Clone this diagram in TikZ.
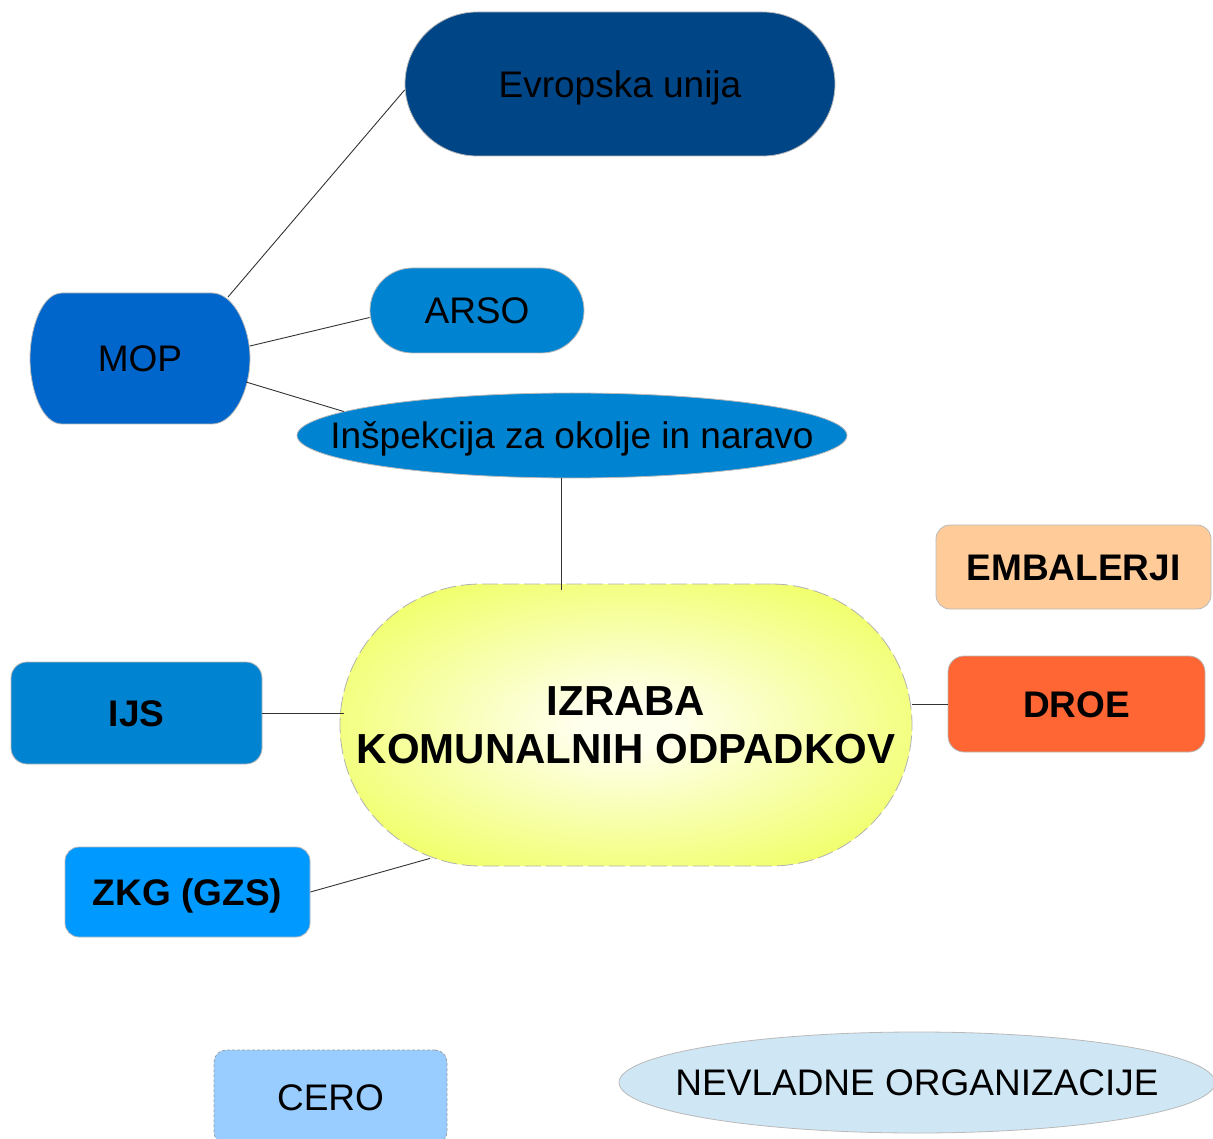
\documentclass[tikz,border=0pt]{standalone}
\usepackage{fontspec}
\setmainfont{Liberation Sans}
\usetikzlibrary{shapes.geometric}
\definecolor{eublue}{HTML}{004586}
\definecolor{mopblue}{HTML}{0066CC}
\definecolor{midblue}{HTML}{0084D1}
\definecolor{zkgblue}{HTML}{0099FF}
\definecolor{ceroblue}{HTML}{99CCFF}
\definecolor{nevlblue}{HTML}{CFE7F5}
\definecolor{embfill}{HTML}{FFCC99}
\definecolor{droefill}{HTML}{FF6633}
\definecolor{glowin}{HTML}{FFFFEE}
\definecolor{glowout}{HTML}{E4FF00}
\pgfdeclareradialshading{glow}{\pgfpoint{0bp}{0bp}}{color(0bp)=(glowin); color(4bp)=(glowin); color(50bp)=(glowout)}
\tikzset{
  lbl/.style={font=\fontsize{37}{44}\selectfont, text height=26.5pt, text depth=0pt, inner sep=0pt},
  lblb/.style={lbl, font=\fontsize{37}{44}\selectfont\bfseries},
  edgegray/.style={draw=gray!55, line width=0.8pt},
  conn/.style={draw=black!80, line width=0.9pt},
  rbox/.style={rectangle, edgegray, inner sep=0pt},
}
\begin{document}
\begin{tikzpicture}[x=1pt,y=-1pt]
\useasboundingbox (0,0) rectangle (1213,1139);

% central
\node[rectangle, rounded corners=141pt, shading=glow, draw=gray!60, line width=0.8pt,
      dash pattern=on 16pt off 5pt, minimum width=572pt, minimum height=282pt,
      inner sep=0pt, align=center, font=\fontsize{42}{48}\selectfont\bfseries]
  (central) at (626,725) {IZRABA\\KOMUNALNIH ODPADKOV};

% top nodes
\node[lbl, rbox, rounded corners=72pt, fill=eublue, minimum width=430pt, minimum height=144pt]
  (eu) at (620,84) {Evropska unija};
\node[lbl, rbox, rounded corners=42.5pt, fill=midblue, minimum width=214pt, minimum height=85pt]
  (arso) at (477,310.5) {ARSO};
\node[lbl, ellipse, edgegray, fill=midblue, minimum width=550pt, minimum height=85pt]
  (insp) at (572,435.5) {\makebox[0pt]{Inšpekcija za okolje in naravo}};

% MOP barrel shape
\path[fill=mopblue, edgegray] (62,293) -- (212,293)
  .. controls (234,293) and (250,328) .. (250,358)
  .. controls (250,390) and (234,424) .. (212,424)
  -- (62,424)
  .. controls (42,424) and (30,390) .. (30,358)
  .. controls (30,328) and (42,293) .. (62,293) -- cycle;
\node[lbl] (mop) at (140,358) {MOP};
\coordinate (mopNE) at (228,297);
\coordinate (mopE1) at (250,346);
\coordinate (mopE2) at (246,382);

% right side
\node[lblb, rbox, rounded corners=14pt, fill=embfill, minimum width=275pt, minimum height=84pt]
  (emb) at (1073.5,567) {EMBALERJI};
\node[lblb, rbox, rounded corners=16pt, fill=droefill, minimum width=257pt, minimum height=96pt]
  (droe) at (1076.5,704) {DROE};

% left side
\node[lblb, rbox, rounded corners=16pt, fill=midblue, minimum width=251pt, minimum height=102pt]
  (ijs) at (136.5,713) {IJS};
\node[lblb, rbox, rounded corners=14pt, fill=zkgblue, minimum width=245pt, minimum height=90pt]
  (zkg) at (187.5,892) {ZKG (GZS)};

% bottom
\node[lbl, rectangle, inner sep=0pt, draw=gray!75, line width=0.8pt, dash pattern=on 3pt off 2pt,
      rounded corners=12pt, fill=ceroblue, minimum width=233pt, minimum height=94pt]
  (cero) at (330.5,1097) {CERO};
\node[lbl, ellipse, edgegray, fill=nevlblue, minimum width=596pt, minimum height=101pt]
  (nevl) at (917,1082.5) {\makebox[0pt]{NEVLADNE ORGANIZACIJE}};

% connectors
\draw[conn] (mopNE) -- ([yshift=-6pt]eu.west);
\draw[conn] (mopE1) -- ([yshift=-7pt]arso.west);
\draw[conn] (mopE2) -- (insp.174);
\draw[conn] ([xshift=-11pt]insp.south) -- ([xshift=-65pt,yshift=-6pt]central.north);
\draw[conn] (ijs.east) -- ([xshift=4pt]ijs.east -| central.west);
\draw[conn] (zkg.east) -- ([xshift=-196pt,yshift=8pt]central.south);
\draw[conn] (droe.west -| central.east) -- (droe.west);
\end{tikzpicture}
\end{document}
